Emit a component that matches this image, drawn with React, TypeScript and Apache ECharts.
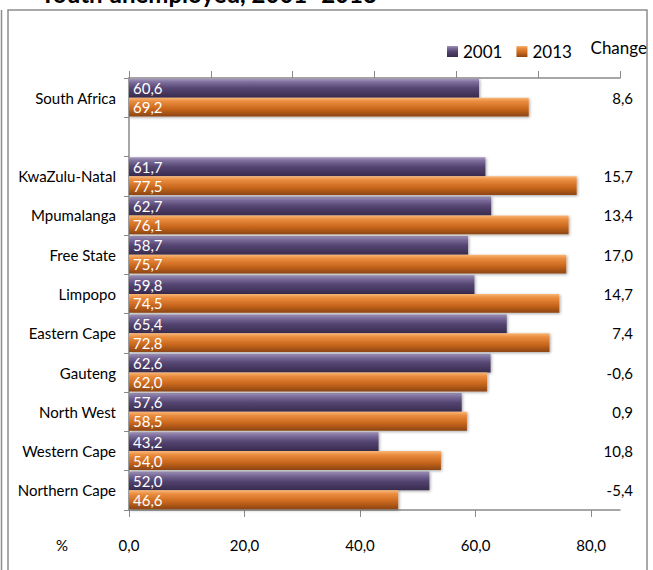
import React, { useEffect, useRef } from "react";
import * as echarts from "echarts";

const categories = [
  "South Africa",
  "",
  "KwaZulu-Natal",
  "Mpumalanga",
  "Free State",
  "Limpopo",
  "Eastern Cape",
  "Gauteng",
  "North West",
  "Western Cape",
  "Northern Cape",
];
const values2001 = [60.6, null, 61.7, 62.7, 58.7, 59.8, 65.4, 62.6, 57.6, 43.2, 52.0];
const values2013 = [69.2, null, 77.5, 76.1, 75.7, 74.5, 72.8, 62.0, 58.5, 54.0, 46.6];
const changes = [8.6, null, 15.7, 13.4, 17.0, 14.7, 7.4, -0.6, 0.9, 10.8, -5.4];
const xTicks = [0, 20, 40, 60, 80];
const seriesNames = ["2001", "2013"];

const FONT = "Lato,'Open Sans',sans-serif";
const fmt = (v: number | null) => (v == null ? "" : v.toFixed(1).replace(".", ","));

const purple = new echarts.graphic.LinearGradient(0, 0, 0, 1, [
  { offset: 0, color: "#a497bd" },
  { offset: 0.18, color: "#7d6e9c" },
  { offset: 0.5, color: "#554572" },
  { offset: 1, color: "#382b4e" },
]);
const orange = new echarts.graphic.LinearGradient(0, 0, 0, 1, [
  { offset: 0, color: "#f8b676" },
  { offset: 0.2, color: "#ea8c3e" },
  { offset: 0.6, color: "#c9671d" },
  { offset: 1, color: "#8c4511" },
]);

export default function App() {
  const ref = useRef<HTMLDivElement>(null);
  useEffect(() => {
    document.body.style.margin = "0";
    const chart = echarts.init(ref.current!, null, { renderer: "svg" });
    const axisGray = "#8a8a8a";
    const labelStyle = {
      show: true,
      position: "insideLeft" as const,
      distance: 4,
      color: "#ffffff",
      fontFamily: FONT,
      fontSize: 15,
      formatter: (p: any) => fmt(p.value),
    };
    const shadow = {
      shadowBlur: 3,
      shadowColor: "rgba(0,0,0,0.35)",
      shadowOffsetX: 1,
      shadowOffsetY: 1,
    };
    chart.setOption({
      animation: false,
      textStyle: { fontFamily: FONT },
      grid: { left: 129, right: 33, top: 78, bottom: 60, containLabel: false },
      legend: {
        left: 442,
        top: 38,
        itemWidth: 11,
        itemHeight: 11,
        itemGap: 14,
        icon: "rect",
        textStyle: { fontFamily: FONT, fontSize: 17, color: "#000" },
        data: seriesNames,
      },
      xAxis: [
        {
          type: "value",
          min: 0,
          max: 85,
          interval: 20,
          position: "bottom",
          axisLine: { show: true, lineStyle: { color: axisGray, width: 1.5 } },
          axisTick: { show: true, length: 7, lineStyle: { color: axisGray }, customValues: xTicks },
          axisLabel: {
            customValues: xTicks,
            margin: 27,
            fontSize: 15,
            color: "#000",
            fontFamily: FONT,
            formatter: (v: number) => fmt(v),
          },
          splitLine: { show: false },
        },
        {
          type: "value",
          min: 0,
          max: 6,
          interval: 1,
          position: "top",
          axisLine: { show: true, lineStyle: { color: axisGray, width: 1.5 } },
          axisTick: { show: true, length: 7, lineStyle: { color: axisGray } },
          axisLabel: { show: false },
          splitLine: { show: false },
        },
      ],
      yAxis: [
        {
          type: "category",
          inverse: true,
          data: categories,
          axisLine: { show: true, lineStyle: { color: axisGray, width: 1.5 } },
          axisTick: { show: true, length: 5, lineStyle: { color: axisGray } },
          axisLabel: { margin: 13, fontSize: 15, color: "#000", fontFamily: FONT },
        },
        {
          type: "category",
          inverse: true,
          position: "right",
          data: categories,
          axisLine: { show: false },
          axisTick: { show: false },
          axisLabel: {
            margin: 13,
            align: "right",
            fontSize: 15,
            color: "#000",
            fontFamily: FONT,
            formatter: (_v: string, i: number) => fmt(changes[i]),
          },
        },
      ],
      series: [
        {
          name: seriesNames[0],
          type: "bar",
          data: values2001,
          barGap: "0%",
          barCategoryGap: "4%",
          itemStyle: { color: purple, ...shadow },
          label: labelStyle,
        },
        {
          name: seriesNames[1],
          type: "bar",
          data: values2013,
          barGap: "0%",
          barCategoryGap: "4%",
          itemStyle: { color: orange, ...shadow },
          label: labelStyle,
        },
      ],
      graphic: [
        {
          type: "rect",
          shape: { x: 8, y: 10, width: 639, height: 580 },
          style: { fill: "none", stroke: "#8d8d8d", lineWidth: 1.5 },
          silent: true,
        },
        {
          type: "line",
          shape: { x1: 1.5, y1: 10, x2: 1.5, y2: 580 },
          style: { stroke: "#8d8d8d", lineWidth: 1.5 },
          silent: true,
        },
        {
          type: "text",
          x: 40,
          y: 5,
          style: {
            text: "Youth unemployed, 2001–2013",
            font: "bold 24px " + FONT,
            fill: "#000",
            textVerticalAlign: "bottom",
          },
          silent: true,
        },
        {
          type: "text",
          x: 647,
          y: 47,
          style: {
            text: "Change",
            font: "17px " + FONT,
            fill: "#000",
            textAlign: "right",
            textVerticalAlign: "middle",
          },
          silent: true,
        },
        {
          type: "text",
          x: 62,
          y: 545,
          style: {
            text: "%",
            font: "15px " + FONT,
            fill: "#000",
            textAlign: "center",
            textVerticalAlign: "middle",
          },
          silent: true,
        },
      ],
    });
    return () => chart.dispose();
  }, []);
  return <div ref={ref} style={{ width: 653, height: 570 }} />;
}
